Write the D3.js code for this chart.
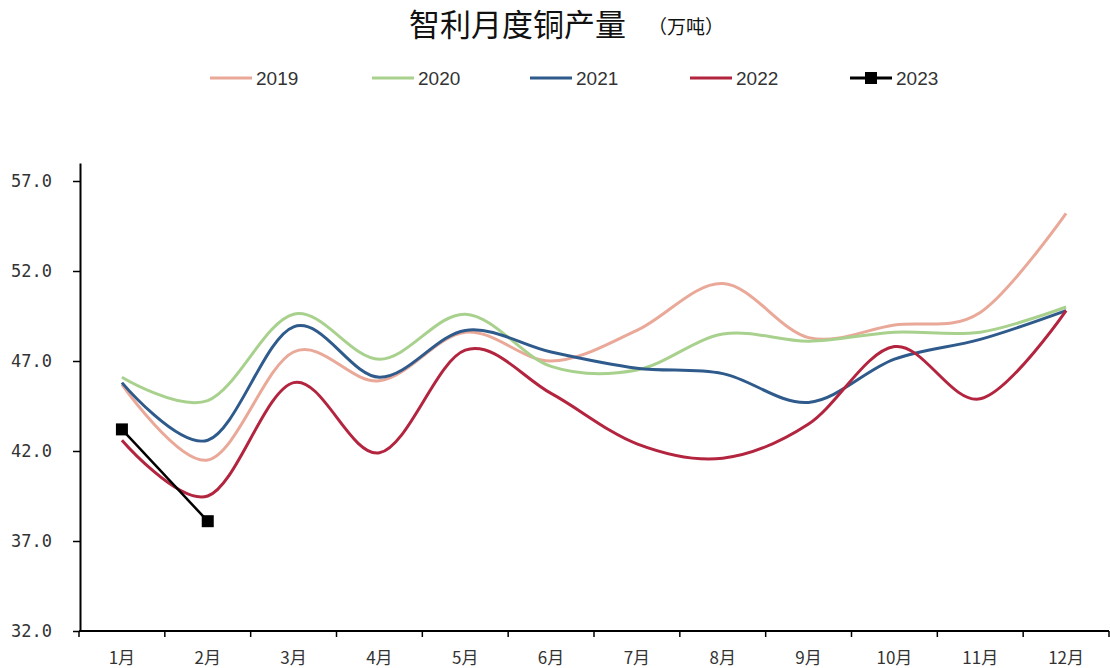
<!DOCTYPE html>
<html><head><meta charset="utf-8">
<script src="https://cdn.jsdelivr.net/npm/d3@7"></script>
<style>body{margin:0;background:#fff}svg{display:block}</style>
</head><body>
<svg id="c" width="1110" height="668"></svg>
<script>
const months = ["1月","2月","3月","4月","5月","6月","7月","8月","9月","10月","11月","12月"];
const yTicks = [32,37,42,47,52,57];
const s2019 = [45.7,41.5,47.5,45.9,48.6,47.0,48.7,51.3,48.3,49.0,49.7,55.2];
const s2020 = [46.1,44.8,49.6,47.1,49.6,46.7,46.5,48.5,48.1,48.6,48.6,50.0];
const s2021 = [45.8,42.6,48.9,46.1,48.7,47.5,46.6,46.3,44.7,47.1,48.2,49.8];
const s2022 = [42.6,39.5,45.8,41.9,47.6,45.2,42.4,41.6,43.5,47.8,44.9,49.8];
const s2023 = [43.2,38.1];
const seriesNames = ["2019","2020","2021","2022","2023"];
const seriesColors = ["#e9a898","#a9d18e","#2f5b8c","#b3243f","#000000"];
const seriesData = [s2019,s2020,s2021,s2022,s2023];

const svg = d3.select("#c");
const x = d3.scaleBand().domain(months).range([79,1109]);
const y = d3.scaleLinear().domain([32,58]).range([631,163]);

// title
const t = svg.append("text").attr("x",409).attr("y",36).attr("font-family","Noto Sans CJK SC").attr("fill","#111");
t.append("tspan").attr("font-size",31).text("智利月度铜产量");
t.append("tspan").attr("font-size",19).attr("dx",22).attr("dy",-2).text("（万吨）");

// legend
const legX = [210,372,530,690,850];
seriesNames.forEach((n,i)=>{
  const g = svg.append("g").attr("transform",`translate(${legX[i]},78)`);
  g.append("line").attr("x1",0).attr("x2",42).attr("y1",0).attr("y2",0).attr("stroke",seriesColors[i]).attr("stroke-width",3);
  if(i===4) g.append("rect").attr("x",15).attr("y",-6).attr("width",12).attr("height",12).attr("fill","#000");
  g.append("text").attr("x",46).attr("y",7).attr("font-family","Liberation Sans Narrow, Arial Narrow, sans-serif").attr("font-size",19).attr("fill","#333").text(n);
});

// axes
const yAxis = d3.axisLeft(y).tickValues(yTicks).tickSize(7).tickSizeOuter(0).tickFormat(d3.format(".1f"));
const ya = svg.append("g").attr("transform","translate(80,0)").call(yAxis);
ya.select(".domain").attr("stroke","#000").attr("stroke-width",2);
ya.selectAll(".tick line").attr("stroke","#000").attr("stroke-width",1.5);
ya.selectAll(".tick text").attr("x",-28).attr("font-family","DejaVu Sans Mono").attr("font-size",17).attr("fill","#333");

const xa = svg.append("g").attr("transform","translate(0,631)");
xa.append("line").attr("x1",79).attr("x2",1109).attr("stroke","#000").attr("stroke-width",2);
xa.selectAll("line.tk").data(months.concat(["end"])).enter().append("line").attr("class","tk")
  .attr("x1",(d,i)=>79+i*x.bandwidth()).attr("x2",(d,i)=>79+i*x.bandwidth()).attr("y1",0).attr("y2",6).attr("stroke","#000").attr("stroke-width",1.5);
xa.selectAll("text").data(months).enter().append("text")
  .attr("x",d=>x(d)+x.bandwidth()/2).attr("y",33).attr("text-anchor","middle")
  .attr("font-family","Noto Sans CJK SC").attr("font-size",17).attr("fill","#333").text(d=>d);

// lines
const cx = (d,i)=>x(months[i])+x.bandwidth()/2;
const smooth = d3.line().x(cx).y(d=>y(d)).curve(d3.curveCardinal.tension(0));
const straight = d3.line().x(cx).y(d=>y(d));
seriesData.forEach((arr,k)=>{
  svg.append("path").datum(arr).attr("fill","none").attr("stroke",seriesColors[k]).attr("stroke-width",k===4?2.5:3)
    .attr("d",k===4?straight:smooth);
});
svg.selectAll("rect.m").data(s2023).enter().append("rect").attr("class","m")
  .attr("x",(d,i)=>cx(d,i)-6).attr("y",d=>y(d)-6).attr("width",12).attr("height",12).attr("fill","#000");
</script>
</body></html>
